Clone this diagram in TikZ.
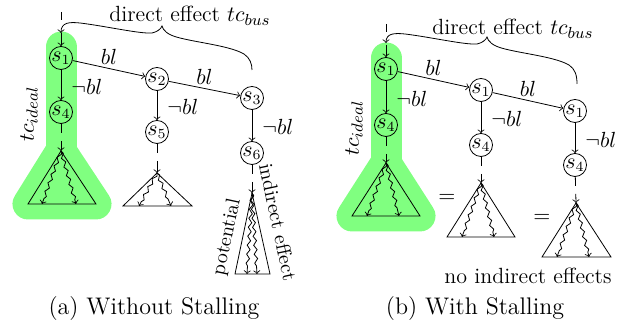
\documentclass[tikz,border=0pt]{standalone}
\usetikzlibrary{decorations.pathmorphing,arrows}
\begin{document}
\begin{tikzpicture}[x=0.5pt,y=-0.5pt,
  statenode/.style={circle, draw, inner sep=0pt, minimum size=10.5pt, font=\fontsize{10.5}{12}\selectfont},
  lbl/.style={font=\fontsize{11}{13}\selectfont, inner sep=2pt},
  neglbl/.style={lbl, right, pos=0.55, xshift=3pt},
  edgearrow/.style={->},
  dashin/.style={->, dash pattern=on 4.5pt off 4pt on 40pt off 1pt},
  dashtop/.style={->, dash pattern=on 4pt off 6.5pt on 40pt off 1pt},
  wavy/.style={->, decorate, decoration={snake, amplitude=0.8pt, segment length=4.5pt, post length=2pt}},
  hilite/.style={draw=green!50, fill=green!50, line width=15.5pt, line cap=round, line join=round},
  bracepath/.style={<-},
  tri/.style={draw}
]
\useasboundingbox (0,0) rectangle (621,324);

% ---------- highlights ----------
\draw[hilite] (61,47) -- (61,150);
\filldraw[hilite] (61,151) -- (28,204) -- (96,204) -- cycle;
\draw[hilite] (386,58) -- (386,163);
\filldraw[hilite] (386,163) -- (352,216) -- (420,216) -- cycle;

% ================= (a) =================
\node[statenode] (a1) at (61,58) {$s_1$};
\node[statenode] (a4) at (61,112) {$s_4$};
\node[statenode] (a2) at (157,79) {$s_2$};
\node[statenode] (a5) at (157,132) {$s_5$};
\node[statenode] (a3) at (252,98) {$s_3$};
\node[statenode] (a6) at (252,153) {$s_6$};

\coordinate (atop) at (61,12);
\draw[dashtop] (atop) -- (a1);
\draw[edgearrow] (a1) -- node[lbl, above, pos=0.5] {$bl$} (a2);
\draw[edgearrow] (a2) -- node[lbl, above, pos=0.5] {$bl$} (a3);
\draw[edgearrow] (a1) -- node[neglbl] {$\neg bl$} (a4);
\draw[edgearrow] (a2) -- node[neglbl] {$\neg bl$} (a5);
\draw[edgearrow] (a3) -- node[neglbl] {$\neg bl$} (a6);

% triangles (a)
\coordinate (ta1) at (61,151);
\draw[tri] (ta1) -- (28,204) -- (96,204) -- cycle;
\draw[wavy] (ta1) -- (42,204);
\draw[wavy] (ta1) -- (76,204);
\draw[dashin] (a4) -- (ta1);

\coordinate (ta2) at (157,173);
\draw[tri] (ta2) -- (123,206) -- (192,206) -- cycle;
\draw[wavy] (ta2) -- (139,206);
\draw[wavy] (ta2) -- (171,206);
\draw[dashin] (a5) -- (ta2);

\coordinate (ta3) at (252,193);
\draw[tri] (ta3) -- (235,274) -- (270,274) -- cycle;
\draw[wavy] (ta3) -- (247,274);
\draw[wavy] (ta3) -- (257,274);
\draw[dashin] (a6) -- (ta3);

% brace (a)
\coordinate (abr) at (61,33);
\draw[bracepath] (abr) .. controls (61,22) and (70,22) .. (80,23)
  .. controls (105,26) and (140,34) .. (152,33)
  .. controls (157,32) and (161,29) .. (162,26)
  .. controls (163,30) and (167,35) .. (180,38)
  .. controls (200,43) and (230,46) .. (244,54)
  .. controls (250,58) and (252,64) .. (252,70);
\node[lbl] (adir) at (190,16) {direct effect $tc_{bus}$};
\node[lbl, rotate=90] (aideal) at (29,114) {$tc_{ideal}$};
\node[rotate=78, inner sep=0pt, font=\fontsize{10}{12}\selectfont] (apot) at (227,237) {potential};
\node[rotate=-78, inner sep=0pt, font=\fontsize{10}{12}\selectfont] (aind) at (278,222) {indirect effect};
\node[font=\fontsize{12}{14}\selectfont] (capa) at (154,309) {(a) Without Stalling};

% ================= (b) =================
\node[statenode] (b1) at (386,69) {$s_1$};
\node[statenode] (b4) at (386,125) {$s_4$};
\node[statenode] (b2) at (481,90) {$s_1$};
\node[statenode] (b5) at (481,145) {$s_4$};
\node[statenode] (b3) at (575,111) {$s_1$};
\node[statenode] (b6) at (575,165) {$s_4$};

\coordinate (btop) at (386,24);
\draw[dashtop] (btop) -- (b1);
\draw[edgearrow] (b1) -- node[lbl, above, pos=0.5] {$bl$} (b2);
\draw[edgearrow] (b2) -- node[lbl, above, pos=0.5] {$bl$} (b3);
\draw[edgearrow] (b1) -- node[neglbl] {$\neg bl$} (b4);
\draw[edgearrow] (b2) -- node[neglbl] {$\neg bl$} (b5);
\draw[edgearrow] (b3) -- node[neglbl] {$\neg bl$} (b6);

\coordinate (tb1) at (386,163);
\draw[tri] (tb1) -- (352,216) -- (420,216) -- cycle;
\draw[wavy] (tb1) -- (367,216);
\draw[wavy] (tb1) -- (399,216);
\draw[dashin] (b4) -- (tb1);

\coordinate (tb2) at (481,183);
\draw[tri] (tb2) -- (447,237) -- (515,237) -- cycle;
\draw[wavy] (tb2) -- (462,237);
\draw[wavy] (tb2) -- (494,237);
\draw[dashin] (b5) -- (tb2);

\coordinate (tb3) at (576,203);
\draw[tri] (tb3) -- (542,257) -- (611,257) -- cycle;
\draw[wavy] (tb3) -- (557,257);
\draw[wavy] (tb3) -- (589,257);
\draw[dashin] (b6) -- (tb3);

\begin{scope}[shift={(325,11)}]
\coordinate (bbr) at (61,32);
\draw[bracepath] (bbr) .. controls (61,22) and (70,22) .. (80,23)
  .. controls (105,26) and (140,34) .. (152,33)
  .. controls (157,32) and (161,29) .. (162,26)
  .. controls (163,30) and (167,35) .. (180,38)
  .. controls (200,43) and (230,46) .. (244,54)
  .. controls (250,58) and (252,64) .. (252,73);
\end{scope}
\node[lbl] (bdir) at (513,29) {direct effect $tc_{bus}$};
\node[lbl, rotate=90] (bideal) at (354,128) {$tc_{ideal}$};
\node[lbl] (eq1) at (447,198) {$=$};
\node[lbl] (eq2) at (542,218) {$=$};
\node[lbl] (noind) at (528,276) {no indirect effects};
\node[font=\fontsize{12}{14}\selectfont] (capb) at (475,309) {(b) With Stalling};
\end{tikzpicture}
\end{document}
